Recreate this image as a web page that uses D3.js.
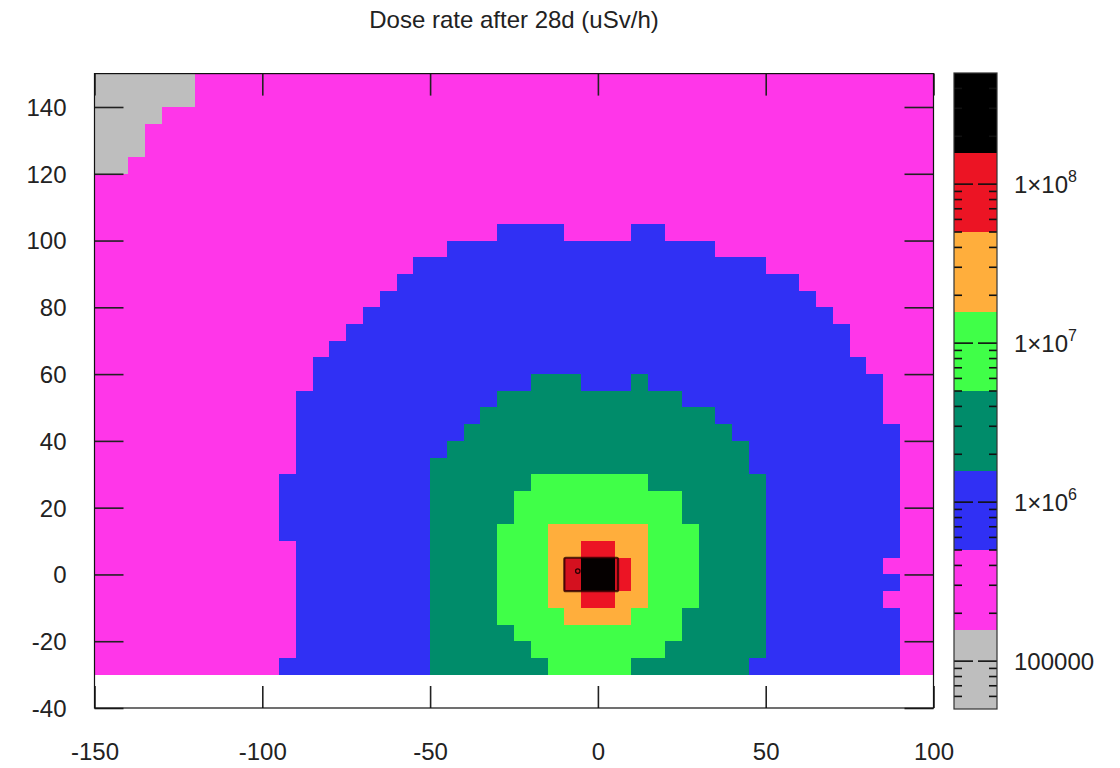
<!DOCTYPE html>
<html>
<head>
<meta charset="utf-8">
<script src="https://cdn.jsdelivr.net/npm/d3@7"></script>
<style>
  body { margin: 0; background: #fff; }
  svg text { font-family: "Liberation Sans", Arial, sans-serif; fill: #222; }
</style>
</head>
<body>
<svg id="chart" width="1120" height="768"></svg>
<script>
// ---- data -------------------------------------------------------------
const title = "Dose rate after 28d (uSv/h)";

// Mesh: 5 x 5 cells, x from -150 to 100, y from -30 to 150
const cellSize = 5;
const columnX = d3.range(-150, 100, cellSize);   // left edge of each column
const rowY = d3.range(145, -35, -cellSize);      // bottom edge of each row, top row first

// Dose band of every cell: one string per row (top row first), one digit per
// column, written in groups of ten columns.
// 0 gray, 1 magenta, 2 blue, 3 teal, 4 green, 5 orange, 6 red, 7 black
const doseBandRows = [
  "0000001111 1111111111 1111111111 1111111111 1111111111", // 145
  "0000001111 1111111111 1111111111 1111111111 1111111111", // 140
  "0000111111 1111111111 1111111111 1111111111 1111111111", // 135
  "0001111111 1111111111 1111111111 1111111111 1111111111", // 130
  "0001111111 1111111111 1111111111 1111111111 1111111111", // 125
  "0011111111 1111111111 1111111111 1111111111 1111111111", // 120
  "1111111111 1111111111 1111111111 1111111111 1111111111", // 115
  "1111111111 1111111111 1111111111 1111111111 1111111111", // 110
  "1111111111 1111111111 1111111111 1111111111 1111111111", // 105
  "1111111111 1111111111 1111222211 1122111111 1111111111", // 100
  "1111111111 1111111111 1222222222 2222222111 1111111111", // 95
  "1111111111 1111111112 2222222222 2222222222 1111111111", // 90
  "1111111111 1111111122 2222222222 2222222222 2211111111", // 85
  "1111111111 1111111222 2222222222 2222222222 2221111111", // 80
  "1111111111 1111112222 2222222222 2222222222 2222111111", // 75
  "1111111111 1111122222 2222222222 2222222222 2222211111", // 70
  "1111111111 1111222222 2222222222 2222222222 2222211111", // 65
  "1111111111 1112222222 2222222222 2222222222 2222221111", // 60
  "1111111111 1112222222 2222223332 2232222222 2222222111", // 55
  "1111111111 1122222222 2222333333 3333322222 2222222111", // 50
  "1111111111 1122222222 2223333333 3333333222 2222222111", // 45
  "1111111111 1122222222 2233333333 3333333322 2222222211", // 40
  "1111111111 1122222222 2333333333 3333333332 2222222211", // 35
  "1111111111 1122222222 3333333333 3333333332 2222222211", // 30
  "1111111111 1222222222 3333334444 4443333333 2222222211", // 25
  "1111111111 1222222222 3333344444 4444433333 2222222211", // 20
  "1111111111 1222222222 3333344444 4444433333 2222222211", // 15
  "1111111111 1222222222 3333444555 5554443333 2222222211", // 10
  "1111111111 1122222222 3333444556 6554443333 2222222211", // 5
  "1111111111 1122222222 3333444567 7654443333 2222222111", // 0
  "1111111111 1122222222 3333444567 7654443333 2222222211", // -5
  "1111111111 1122222222 3333444556 6554443333 2222222111", // -10
  "1111111111 1122222222 3333444455 5544433333 2222222211", // -15
  "1111111111 1122222222 3333344444 4444433333 2222222211", // -20
  "1111111111 1122222222 3333334444 4444333333 2222222211", // -25
  "1111111111 1222222222 3333333444 4433333332 2222222211"  // -30
];

// Representative dose (uSv/h) of each band and the band edges
const bandDose  = [8.9e4, 2.8e5, 8.9e5, 2.8e6, 8.9e6, 2.8e7, 8.9e7, 2.8e8];
const bandEdges = [1.58e5, 5e5, 1.58e6, 5e6, 1.58e7, 5e7, 1.58e8];
const bandColors = ["#bebebe", "#ff36e9", "#3030f4", "#008c6a", "#40ff48", "#ffae3c", "#ec1424", "#000000"];
const colorRange = [5e4, 5e8];

// Ticks
const xTicks = [-150, -100, -50, 0, 50, 100];
const yTicks = [-40, -20, 0, 20, 40, 60, 80, 100, 120, 140];
const cbMajor = [1e5, 1e6, 1e7, 1e8];
const cbLabels = [["100000", ""], ["1×10", "6"], ["1×10", "7"], ["1×10", "8"]];

// Outline of the source container
const sourceBox = { x0: -10, x1: 6, y0: -5, y1: 5 };
const sourceMark = { x: -6, y: 1 };

// ---- drawing ----------------------------------------------------------
const svg = d3.select("#chart");

const x = d3.scaleLinear().domain([-150, 100]).range([94.5, 933.5]);
const y = d3.scaleLinear().domain([-40, 150]).range([708, 73.6]);
const color = d3.scaleThreshold().domain(bandEdges).range(bandColors);

const cells = [];
doseBandRows.forEach((line, r) => {
  const row = line.replace(/ /g, "");
  for (let c = 0; c < columnX.length; c++) {
    cells.push({ x: columnX[c], y: rowY[r], dose: bandDose[+row[c]] });
  }
});

svg.append("g")
  .selectAll("rect")
  .data(cells)
  .join("rect")
  .attr("x", d => x(d.x))
  .attr("y", d => y(d.y + cellSize))
  .attr("width", d => x(d.x + cellSize) - x(d.x))
  .attr("height", d => y(d.y) - y(d.y + cellSize))
  .attr("fill", d => color(d.dose))
  .attr("shape-rendering", "crispEdges");

// source container outline
svg.append("rect")
  .attr("x", x(sourceBox.x0))
  .attr("y", y(sourceBox.y1))
  .attr("width", x(sourceBox.x1) - x(sourceBox.x0))
  .attr("height", y(sourceBox.y0) - y(sourceBox.y1))
  .attr("rx", 1.5)
  .attr("fill", "rgba(40,0,0,0.12)")
  .attr("stroke", "#2a0000")
  .attr("stroke-opacity", 0.8)
  .attr("stroke-width", 2.2);
svg.append("circle")
  .attr("cx", x(sourceMark.x))
  .attr("cy", y(sourceMark.y))
  .attr("r", 2.2)
  .attr("fill", "none")
  .attr("stroke", "#2a0000")
  .attr("stroke-width", 1.3);

// axes with inward ticks, mirrored on the opposite side
function styleAxis(g) {
  g.select(".domain").remove();
  g.selectAll(".tick line").attr("stroke", "#222").attr("stroke-width", 1.6);
  g.selectAll(".tick text").attr("font-size", 24).attr("fill", "#222");
}
const fmt = d => String(d);

svg.append("g")
  .attr("transform", `translate(0,${y(-40)})`)
  .call(d3.axisBottom(x).tickValues(xTicks).tickSize(-22).tickPadding(35).tickFormat(fmt))
  .call(styleAxis);
svg.append("g")
  .attr("transform", `translate(0,${y(150)})`)
  .call(d3.axisTop(x).tickValues(xTicks).tickSize(-22).tickFormat(""))
  .call(styleAxis);
svg.append("g")
  .attr("transform", `translate(${x(-150)},0)`)
  .call(d3.axisLeft(y).tickValues(yTicks).tickSize(-29).tickPadding(28).tickFormat(fmt))
  .call(styleAxis)
  .call(g => g.selectAll(".tick text").attr("dy", "0.35em"));
svg.append("g")
  .attr("transform", `translate(${x(100)},0)`)
  .call(d3.axisRight(y).tickValues(yTicks).tickSize(-29).tickFormat(""))
  .call(styleAxis);

// plot border
svg.append("rect")
  .attr("x", x(-150)).attr("y", y(150))
  .attr("width", x(100) - x(-150)).attr("height", y(-40) - y(150))
  .attr("fill", "none").attr("stroke", "#111").attr("stroke-width", 1.2);

// title
svg.append("text")
  .attr("x", (x(-150) + x(100)) / 2)
  .attr("y", 28)
  .attr("text-anchor", "middle")
  .attr("font-size", 24)
  .text(title);

// ---- colour bar ---------------------------------------------------------
const cbX = 954, cbW = 43;
const cb = d3.scaleLog().domain(colorRange).range([709, 73]);
const bandLimits = [colorRange[0], ...bandEdges, colorRange[1]];
const cbg = svg.append("g");

cbg.selectAll("rect.band")
  .data(bandColors)
  .join("rect")
  .attr("class", "band")
  .attr("x", cbX)
  .attr("width", cbW)
  .attr("y", (d, i) => cb(bandLimits[i + 1]))
  .attr("height", (d, i) => cb(bandLimits[i]) - cb(bandLimits[i + 1]))
  .attr("fill", d => d)
  .attr("shape-rendering", "crispEdges");

const minorTicks = [];
for (let k = 4; k <= 8; k++) {
  for (let m = 2; m <= 9; m++) {
    const v = m * Math.pow(10, k);
    if (v > colorRange[0] && v < colorRange[1]) minorTicks.push(v);
  }
}
const tickSegs = [];
minorTicks.forEach(v => tickSegs.push({ v, len: 8 }));
cbMajor.forEach(v => tickSegs.push({ v, len: 19 }));

cbg.selectAll("line.l").data(tickSegs).join("line")
  .attr("x1", cbX).attr("x2", d => cbX + d.len)
  .attr("y1", d => cb(d.v)).attr("y2", d => cb(d.v))
  .attr("stroke", "#111").attr("stroke-width", 1.6);
cbg.selectAll("line.r").data(tickSegs).join("line")
  .attr("x1", cbX + cbW).attr("x2", d => cbX + cbW - d.len)
  .attr("y1", d => cb(d.v)).attr("y2", d => cb(d.v))
  .attr("stroke", "#111").attr("stroke-width", 1.6);

cbg.append("rect")
  .attr("x", cbX).attr("y", cb(colorRange[1]))
  .attr("width", cbW).attr("height", cb(colorRange[0]) - cb(colorRange[1]))
  .attr("fill", "none").attr("stroke", "#333").attr("stroke-width", 1.2);

const lab = cbg.selectAll("text.cbl").data(cbMajor).join("text")
  .attr("class", "cbl")
  .attr("x", 1014)
  .attr("y", d => cb(d) + 8.5)
  .attr("font-size", 24);
lab.append("tspan").text((d, i) => cbLabels[i][0]);
lab.append("tspan")
  .attr("font-size", 16)
  .attr("dy", -11)
  .text((d, i) => cbLabels[i][1]);
</script>
</body>
</html>
